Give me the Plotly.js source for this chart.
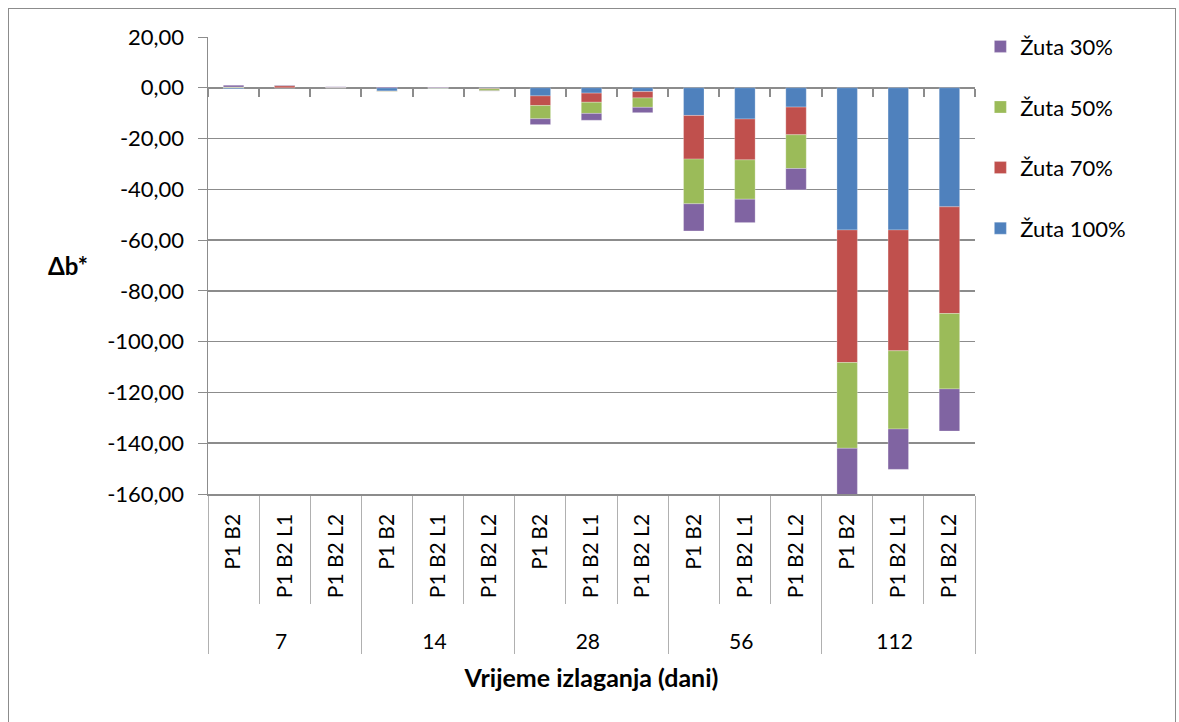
<!DOCTYPE html>
<html><head><meta charset="utf-8">
<script src="https://cdn.plot.ly/plotly-3.0.1.min.js"></script>
<style>
html,body{margin:0;padding:0;background:#fff;}
#frame{position:absolute;left:8px;top:8px;width:1168px;height:720px;border:1.5px solid #8c8c8c;box-sizing:border-box;pointer-events:none;z-index:5;}
#chart{position:absolute;left:0;top:0;width:1179px;height:722px;}
</style></head>
<body>
<div id="chart"></div>
<div id="frame"></div>
<script>
const days = ['7', '14', '28', '56', '112'];
const samples = ['P1 B2', 'P1 B2 L1', 'P1 B2 L2'];
const seriesNames = ['Žuta 100%', 'Žuta 70%', 'Žuta 50%', 'Žuta 30%'];
const zuta100 = [-0.4, 0.0, -0.1, -1.3, -0.2, -0.2, -3.2, -2.1, -1.5, -10.9, -12.3, -7.6, -56.0, -56.0, -46.9];
const zuta70  = [0.1, 0.8, 0.1, -0.1, 0.1, -0.2, -3.8, -3.6, -2.5, -17.2, -16.1, -10.9, -52.2, -47.6, -42.0];
const zuta50  = [0.2, 0.1, 0.1, -0.1, -0.1, -0.8, -5.2, -4.4, -3.7, -17.6, -15.5, -13.3, -33.8, -30.8, -29.7];
const zuta30  = [0.7, 0.2, 0.2, 0.3, 0.2, -0.1, -2.3, -2.7, -2.1, -10.7, -9.2, -8.4, -19.0, -15.9, -16.6];
const yTicks = [20, 0, -20, -40, -60, -80, -100, -120, -140, -160];
const colors = ['#4F81BD', '#C0504D', '#9BBB59', '#8064A2'];
const values = [zuta100, zuta70, zuta50, zuta30];

// leading non-breaking spaces only pad the rotated label box (pushes the day row down)
const PAD = '\u00a0\u00a0\u00a0\u00a0';
const grp = [], lab = [];
days.forEach(d => samples.forEach(s => { grp.push(d); lab.push(PAD + s); }));
const yTickText = yTicks.map(v => v.toFixed(2).replace('.', ','));

const FONT = 'Lato, "Liberation Sans", sans-serif';
const traces = values.map((v, i) => ({
  type: 'bar', name: seriesNames[i], x: [grp, lab], y: v,
  marker: {color: colors[i], line: {color: 'rgba(255,255,255,0.5)', width: 0.5}},
  legendgroup: 'g' + i, legendrank: 10 - i, hoverinfo: 'y'
}));
// helper trace carrying the zero-line category ticks axis
traces.push({type: 'bar', x: lab.map((s, i) => i), y: lab.map(() => 0), xaxis: 'x2', showlegend: false,
             hoverinfo: 'skip', marker: {color: 'rgba(0,0,0,0)'}});

const layout = {
  width: 1179, height: 722,
  margin: {l: 208, r: 204, t: 37, b: 228},
  paper_bgcolor: '#fff', plot_bgcolor: '#fff',
  barmode: 'relative', bargap: 0.6,
  font: {family: FONT, size: 21, color: '#000'},
  showlegend: true,
  legend: {x: 1.007, y: 1.025, xanchor: 'left', yanchor: 'top', traceorder: 'grouped', tracegroupgap: 29,
           font: {family: FONT, size: 22, color: '#000'}, itemwidth: 30},
  yaxis: {range: [-160, 20], tickmode: 'array', tickvals: yTicks, ticktext: yTickText,
          showgrid: true, gridcolor: '#8c8c8c', gridwidth: 1.5,
          zeroline: true, zerolinecolor: '#8c8c8c', zerolinewidth: 2,
          showline: true, linecolor: '#8c8c8c', linewidth: 1.5, ticks: 'outside', ticklen: 9, tickcolor: '#8c8c8c',
          ticklabelstandoff: 9, tickfont: {family: FONT, size: 22}},
  xaxis: {type: 'multicategory', tickangle: -90, showline: true, linecolor: '#8c8c8c', linewidth: 1.5,
          ticks: 'outside', ticklen: 108, tickcolor: '#b0b0b0', tickwidth: 1, showdividers: true, dividercolor: '#b0b0b0', dividerwidth: 1,
          ticklabelstandoff: 10, tickfont: {family: FONT, size: 21},
          title: {text: 'Vrijeme izlaganja (dani)', font: {family: FONT, size: 25, color: '#000', weight: 'bold'}, standoff: 17}},
  xaxis2: {overlaying: 'x', anchor: 'free', position: 160 / 180, side: 'bottom', range: [-0.5, 14.5], showgrid: false, zeroline: false,
           showline: false, ticks: 'outside', ticklen: 8, tickwidth: 2, tickcolor: '#8c8c8c', tick0: 0.5, dtick: 1, showticklabels: false},
  annotations: [{text: '<b>Δb*</b>', xref: 'paper', yref: 'paper', x: -0.183, y: 0.5, xanchor: 'center', yanchor: 'middle',
                 showarrow: false, font: {family: FONT, size: 24, color: '#000'}}]
};
Plotly.newPlot('chart', traces, layout, {displayModeBar: false, staticPlot: true});
</script>
</body></html>
